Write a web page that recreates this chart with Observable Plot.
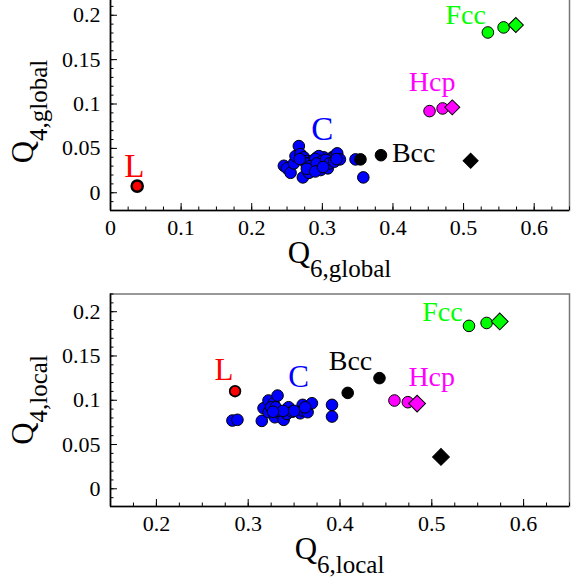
<!DOCTYPE html>
<html><head><meta charset="utf-8">
<script src="https://cdn.jsdelivr.net/npm/d3@7"></script>
<script src="https://cdn.jsdelivr.net/npm/@observablehq/plot@0.6"></script>
<style>
body{margin:0;background:white;}
#chart svg{display:block;}
#chart svg text{font-family:"Liberation Serif","Times New Roman",serif;}
</style></head><body><div id="chart"></div>
<script>
// ---------- data ----------
const phases = ["L", "C", "Bcc", "Hcp", "Fcc"];

// global order parameters (top panel)
const gL_q6 = [0.0378];
const gL_q4 = [0.0075];
const gC_q6 = [0.2667, 0.2455, 0.2500, 0.2550, 0.2597, 0.2620, 0.2690, 0.2738, 0.2724, 0.2786,
               0.2810, 0.2857, 0.2880, 0.2927, 0.2975, 0.2975, 0.3020, 0.3045, 0.3078, 0.3116,
               0.3140, 0.3187, 0.3211, 0.3249, 0.2950, 0.2865, 0.2770, 0.2900, 0.3000,
               0.2830, 0.2920, 0.3050, 0.3100, 0.2680, 0.2780, 0.3170, 0.2900, 0.3010, 0.3200,
               0.3470, 0.3580];
const gC_q4 = [0.0526, 0.0304, 0.0275, 0.0225, 0.0331, 0.0413, 0.0436, 0.0399, 0.0173, 0.0360,
               0.0225, 0.0360, 0.0293, 0.0399, 0.0338, 0.0256, 0.0399, 0.0312, 0.0275, 0.0368,
               0.0399, 0.0424, 0.0444, 0.0376, 0.0413, 0.0349, 0.0330, 0.0380, 0.0360,
               0.0300, 0.0330, 0.0370, 0.0330, 0.0380, 0.0270, 0.0350, 0.0240, 0.0290, 0.0380,
               0.0376, 0.0173];
const gBcc_q6 = [0.354, 0.383];
const gBcc_q4 = [0.0376, 0.0423];
const gHcp_q6 = [0.4518, 0.4703];
const gHcp_q4 = [0.0920, 0.0950];
const gFcc_q6 = [0.5344, 0.5567];
const gFcc_q4 = [0.1806, 0.1863];

// local order parameters (bottom panel)
const lL_q6 = [0.2857];
const lL_q4 = [0.1102];
const lC_q6 = [0.2828, 0.2883, 0.3148, 0.3167, 0.3221, 0.3221, 0.3276, 0.3290, 0.3320, 0.3348,
               0.3386, 0.3440, 0.3422, 0.3567, 0.3593, 0.3593, 0.3647, 0.3694, 0.3913, 0.3913,
               0.3250, 0.3310, 0.3480, 0.3300, 0.3380, 0.3500, 0.3620, 0.3270];
const lC_q4 = [0.0771, 0.0779, 0.0767, 0.0910, 0.0997, 0.0865, 0.0966, 0.0808, 0.1053, 0.0853,
               0.0779, 0.0921, 0.0846, 0.0853, 0.0948, 0.0884, 0.0865, 0.0966, 0.0948, 0.0816,
               0.0920, 0.0880, 0.0870, 0.0920, 0.0880, 0.0880, 0.0920, 0.0870];
const lBcc_q6 = [0.4084, 0.4430];
const lBcc_q4 = [0.1083, 0.1250];
const lHcp_q6 = [0.4593, 0.4739];
const lHcp_q4 = [0.0997, 0.0978];
const lFcc_q6 = [0.5405, 0.5597];
const lFcc_q4 = [0.1840, 0.1873];

// perfect crystals (diamonds), same in both panels
const idealPhases = ["Bcc", "Hcp", "Fcc"];
const ideal_q6 = [0.510, 0.484, 0.574];
const ideal_q4 = [0.036, 0.0962, 0.189];

// phase labels (data-space anchors)
const labelText = ["L", "C", "Bcc", "Hcp", "Fcc"];
const gLabel_q6 = [0.0336, 0.2999, 0.4293, 0.4554, 0.503];
const gLabel_q4 = [0.018, 0.0593, 0.0342, 0.1149, 0.1905];
const lLabel_q6 = [0.2737, 0.355, 0.4114, 0.4999, 0.5115];
const lLabel_q4 = [0.1234, 0.1147, 0.1337, 0.1166, 0.190];

// ticks
const xTicksGlobal = [0, 0.1, 0.2, 0.3, 0.4, 0.5, 0.6];
const xTicksLocal = [0.2, 0.3, 0.4, 0.5, 0.6];
const yTicks = [0, 0.05, 0.1, 0.15, 0.2];

// ---------- drawing ----------
const phaseColors = ["#ff0000", "#0000ff", "#000000", "#ff00ff", "#00ff00"];
const FONT = "Liberation Serif";
const rows = (q6, q4, phase) => q6.map((v, i) => ({q6: v, q4: q4[i], phase}));
const W = 579, ML = 110, MR = 10, MB = 80;

function panel({xDomain, xTicks, sets, ideal, labels, height, marginTop, diamondR, lR, lSW, cFont}) {
  const fh = height - marginTop - MB;
  const fw = W - ML - MR;
  const xMinor = d3.range(xDomain[0], xDomain[1] + 1e-9, 0.025).map(v => +v.toFixed(3));
  const yMinor = d3.range(-0.02, 0.22 + 1e-9, 0.01).map(v => +v.toFixed(3));
  const dot = (data, extra = {}) => Plot.dot(data, {x: "q6", y: "q4", fill: "phase", stroke: "black", strokeWidth: 1, r: 5.8, ...extra});
  return Plot.plot({
    width: W, height, marginTop, marginBottom: MB, marginLeft: ML, marginRight: MR,
    style: `font-family: "Liberation Serif", serif; font-size: 22px; background: white; overflow: visible; color: black;`,
    x: {domain: xDomain},
    y: {domain: [-0.02, 0.22]},
    color: {domain: phases, range: phaseColors},
    marks: [
      Plot.frame({stroke: "#777", strokeWidth: 1.5}),
      Plot.ruleX([xDomain[0]], {stroke: "black", strokeWidth: 1.6}),
      Plot.ruleY([-0.02], {stroke: "black", strokeWidth: 1.6}),
      Plot.tickX(xMinor, {x: d => d, insetTop: fh - 3.5, stroke: "black", strokeWidth: 1}),
      Plot.tickX(xTicks, {x: d => d, insetTop: fh - 7, stroke: "black", strokeWidth: 1}),
      Plot.tickY(yMinor, {y: d => d, insetRight: fw - 3.5, stroke: "black", strokeWidth: 1}),
      Plot.tickY(yTicks, {y: d => d, insetRight: fw - 7, stroke: "black", strokeWidth: 1}),
      Plot.axisX({ticks: xTicks, tickSize: 0, tickPadding: 9, tickFormat: d => String(d), fontSize: 22, fontFamily: FONT, label: null}),
      Plot.axisY({ticks: yTicks, tickSize: 0, tickPadding: 10, tickFormat: d => String(d), fontSize: 22, fontFamily: FONT, label: null}),
      dot(sets.C),
      dot(sets.Bcc),
      dot(sets.Hcp),
      dot(sets.Fcc),
      dot(sets.L, {r: lR, strokeWidth: lSW}),
      Plot.dot(ideal, {x: "q6", y: "q4", fill: "phase", stroke: "black", strokeWidth: 1, symbol: "square", rotate: 45, r: diamondR}),
      Plot.text(labels, {x: "q6", y: "q4", text: "text", fill: "phase", lineAnchor: "bottom", fontFamily: FONT,
        fontSize: d => (d.text === "C" || d.text === "L") ? cFont : 28})
    ]
  });
}

function addTitle(svg, x, y, sub, rotate) {
  const t = d3.select(svg).append("text")
    .attr("text-anchor", "middle").attr("font-family", FONT).attr("fill", "black")
    .attr("transform", rotate ? `translate(${x},${y}) rotate(-90)` : `translate(${x},${y})`);
  t.append("tspan").attr("font-size", 31).text("Q");
  t.append("tspan").attr("font-size", 25).attr("dy", 14).text(sub);
}

const idealRows = ideal_q6.map((v, i) => ({q6: v, q4: ideal_q4[i], phase: idealPhases[i]}));
const labelRows = (q6, q4) => labelText.map((t, i) => ({q6: q6[i], q4: q4[i], text: t, phase: phases[i]}));

const topPanel = panel({
  xDomain: [0, 0.65], xTicks: xTicksGlobal,
  sets: {L: rows(gL_q6, gL_q4, "L"), C: rows(gC_q6, gC_q4, "C"), Bcc: rows(gBcc_q6, gBcc_q4, "Bcc"),
         Hcp: rows(gHcp_q6, gHcp_q4, "Hcp"), Fcc: rows(gFcc_q6, gFcc_q4, "Fcc")},
  ideal: idealRows, labels: labelRows(gLabel_q6, gLabel_q4),
  height: 293, marginTop: 0, diamondR: 6.0, lR: 5.6, lSW: 2.4, cFont: 33
});
topPanel.style.marginTop = "-3px";
addTitle(topPanel, ML + (W - ML - MR) / 2, 265.5, "6,global", false);
addTitle(topPanel, 33, 114.5, "4,global", true);

const bottomPanel = panel({
  xDomain: [0.15, 0.65], xTicks: xTicksLocal,
  sets: {L: rows(lL_q6, lL_q4, "L"), C: rows(lC_q6, lC_q4, "C"), Bcc: rows(lBcc_q6, lBcc_q4, "Bcc"),
         Hcp: rows(lHcp_q6, lHcp_q4, "Hcp"), Fcc: rows(lFcc_q6, lFcc_q4, "Fcc")},
  ideal: idealRows, labels: labelRows(lLabel_q6, lLabel_q4),
  height: 296, marginTop: 3.5, diamondR: 6.7, lR: 5.3, lSW: 1.8, cFont: 31
});
addTitle(bottomPanel, ML + (W - ML - MR) / 2, 268.5, "6,local", false);
addTitle(bottomPanel, 33, 110, "4,local", true);

document.getElementById("chart").append(topPanel, bottomPanel);
</script></body></html>
